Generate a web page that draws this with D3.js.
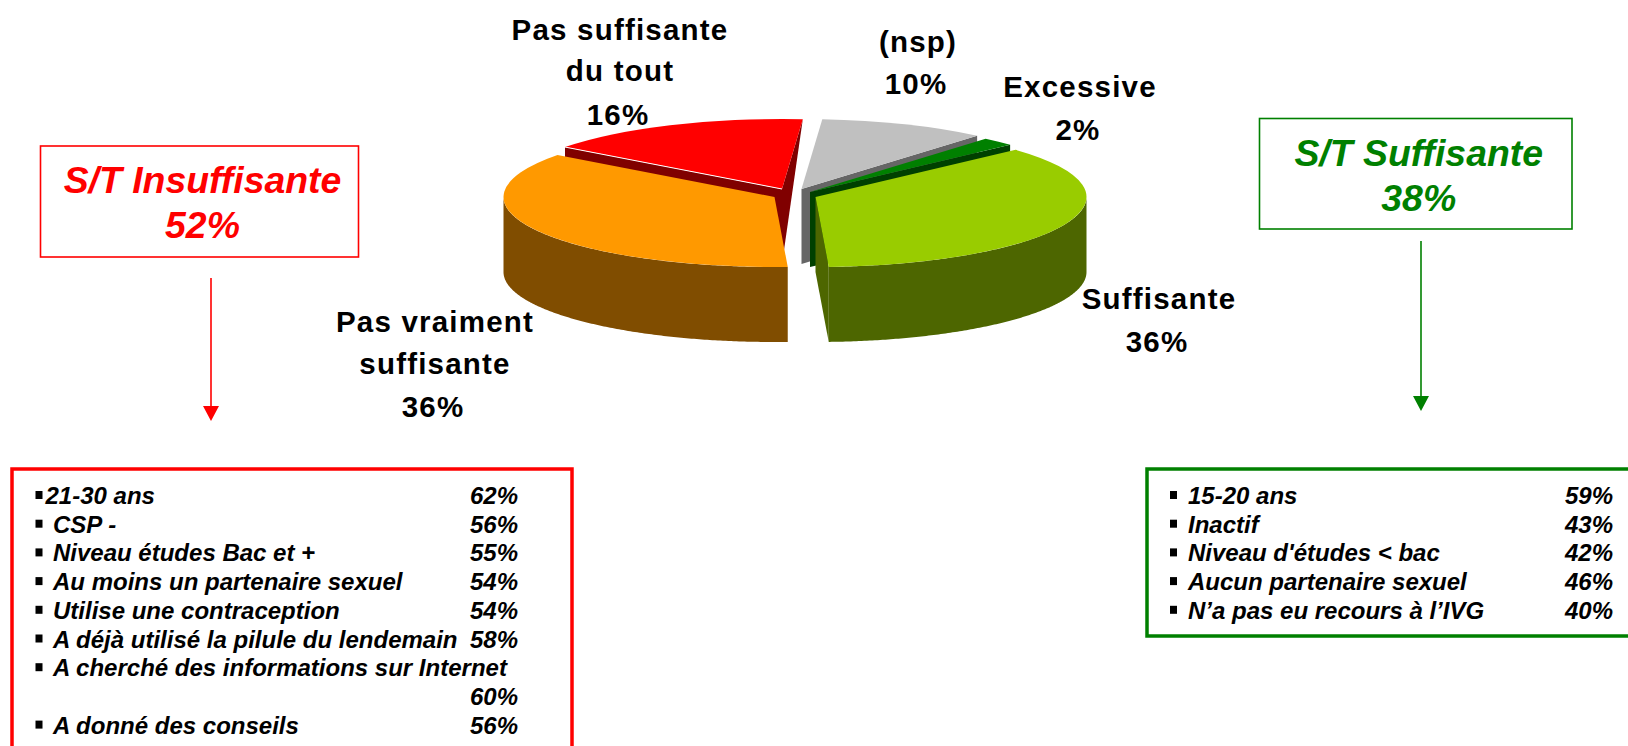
<!DOCTYPE html>
<html>
<head>
<meta charset="utf-8">
<script src="https://cdn.jsdelivr.net/npm/d3@7"></script>
<style>
  body { margin: 0; background: #fff; overflow: hidden; }
  text { font-family: "Liberation Sans", Arial, sans-serif; font-weight: bold; }
</style>
</head>
<body>
<script>
// data
var categories = ["Excessive", "Suffisante", "Pas vraiment suffisante", "Pas suffisante du tout", "(nsp)"];
var shares = [2, 36, 36, 16, 10];

var insuffLabels = ["21-30 ans", "CSP -", "Niveau études Bac et +", "Au moins un partenaire sexuel",
  "Utilise une contraception", "A déjà utilisé la pilule du lendemain",
  "A cherché des informations sur Internet", "", "A donné des conseils"];
var insuffValues = [62, 56, 55, 54, 54, 58, null, 60, 56];

var suffLabels = ["15-20 ans", "Inactif", "Niveau d'études < bac", "Aucun partenaire sexuel", "N’a pas eu recours à l’IVG"];
var suffValues = [59, 43, 42, 46, 40];

var insuffTotal = 52, suffTotal = 38;

// look of the pie
var topColors = ["#008000", "#99cc00", "#ff9900", "#ff0000", "#c0c0c0"];
var sideColors = ["#004000", "#4d6600", "#804d00", "#800000", "#666666"];
var apexes = [[810, 192], [815.5, 197], [774.5, 197], [782, 189], [801.5, 189]];
var rx = 271, ry = 70, depth = 75;
var drawOrder = [3, 4, 0, 1, 2];

var labelLayout = [
  { x: 1080, lines: [[0, 96.5], [1, 140]], text: ["Excessive"] },
  { x: 1159, lines: [[0, 309], [1, 352]], text: ["Suffisante"] },
  { x: 435, lines: [[0, 332], [1, 374], [2, 417]], text: ["Pas vraiment", "suffisante"] },
  { x: 620, lines: [[0, 39.5], [1, 81], [2, 124.5]], text: ["Pas suffisante", "du tout"] },
  { x: 918, lines: [[0, 52], [1, 94]], text: ["(nsp)"] }
];

var svg = d3.select("body").append("svg")
  .attr("width", 1628)
  .attr("height", 746);

var rad = Math.PI / 180;
var pie = d3.pie().sort(null).startAngle(40.4 * rad).endAngle(400.4 * rad);
var arcs = pie(shares);

var arc = d3.arc().innerRadius(0).outerRadius(rx);
var line = d3.line();

function rim(i, a) {
  return [apexes[i][0] + rx * Math.sin(a), apexes[i][1] - ry * Math.cos(a)];
}

function wall(i, a) {
  var p = apexes[i], r = rim(i, a);
  // an edge pointing almost straight back only shows as a wedge
  if (Math.cos(a) > 0 && Math.abs(Math.sin(a)) < 0.2) return [p, r, [p[0], p[1] + depth]];
  return [p, r, [r[0], r[1] + depth], [p[0], p[1] + depth]];
}

drawOrder.forEach(function(i) {
  var d = arcs[i], g = svg.append("g").attr("class", "slice");

  if (Math.sin(d.startAngle) < 0) {
    g.append("path").attr("d", line(wall(i, d.startAngle)) + "Z").attr("fill", sideColors[i]);
  }
  if (Math.sin(d.endAngle) > 0) {
    g.append("path").attr("d", line(wall(i, d.endAngle)) + "Z").attr("fill", sideColors[i]);
  }

  // outer wall, only the front half of the ellipse
  var from = Math.max(d.startAngle, 90 * rad), to = Math.min(d.endAngle, 270 * rad);
  if (from < to) {
    var angles = d3.range(from, to, 0.01).concat([to]);
    var outer = angles.map(function(a) { return rim(i, a); });
    var lower = outer.map(function(p) { return [p[0], p[1] + depth]; }).reverse();
    g.append("path").attr("d", line(outer.concat(lower)) + "Z").attr("fill", sideColors[i]);
  }

  g.append("path")
    .attr("d", arc(d))
    .attr("transform", "translate(" + apexes[i] + ") scale(1," + (ry / rx) + ")")
    .attr("fill", topColors[i]);

  // thin light edge on the red slice
  if (categories[i] === "Pas suffisante du tout") {
    g.append("path")
      .attr("d", line([apexes[i], rim(i, d.startAngle)]))
      .attr("stroke", "#fff").attr("stroke-width", 1);
  }
});

// pie labels
labelLayout.forEach(function(l, i) {
  var rows = l.text.concat([shares[i] + "%"]);
  svg.append("g").selectAll("text")
    .data(rows)
    .enter()
    .append("text")
    .attr("x", function(d, k) { return k === rows.length - 1 ? l.x - 2 : l.x; })
    .attr("y", function(d, k) { return l.lines[k][1]; })
    .attr("text-anchor", "middle")
    .attr("font-size", 29.5)
    .attr("letter-spacing", 1.2)
    .attr("fill", "#000")
    .text(function(d) { return d; });
});

// summary boxes with their arrows
function summary(o) {
  svg.append("rect")
    .attr("x", o.x).attr("y", o.y).attr("width", o.w).attr("height", o.h)
    .attr("fill", "#fff").attr("stroke", o.color).attr("stroke-width", 1.6);
  svg.selectAll(null)
    .data([o.title, o.total + "%"])
    .enter()
    .append("text")
    .attr("x", o.x + o.w / 2 + 3)
    .attr("y", function(d, i) { return o.y + 47 + i * 45; })
    .attr("text-anchor", "middle")
    .attr("font-size", 37.4)
    .attr("font-style", "italic")
    .attr("fill", o.color)
    .text(function(d) { return d; });
  svg.append("path")
    .attr("d", line([[o.ax, o.ay0], [o.ax, o.ay1 - 14]]))
    .attr("stroke", o.color).attr("stroke-width", 1.6);
  svg.append("path")
    .attr("d", line([[o.ax - 8, o.ay1 - 15], [o.ax + 8, o.ay1 - 15], [o.ax, o.ay1]]) + "Z")
    .attr("fill", o.color);
}

summary({ x: 40.5, y: 146, w: 318, h: 111, color: "#ff0000", title: "S/T Insuffisante", total: insuffTotal, ax: 211, ay0: 278, ay1: 421 });
summary({ x: 1259.5, y: 118.5, w: 312.5, h: 110.5, color: "#008000", title: "S/T Suffisante", total: suffTotal, ax: 1421, ay0: 241, ay1: 411 });

// detail lists
var rowY = d3.scaleLinear().domain([0, 1]).range([504, 532.7]);

function list(o) {
  svg.append("rect")
    .attr("x", o.x).attr("y", o.y).attr("width", o.w).attr("height", o.h)
    .attr("fill", "none").attr("stroke", o.color).attr("stroke-width", 3.5);

  var rows = svg.append("g").selectAll("g")
    .data(o.labels)
    .enter()
    .append("g")
    .attr("transform", function(d, i) { return "translate(0," + rowY(i) + ")"; });

  rows.filter(function(d) { return d !== ""; })
    .append("rect")
    .attr("x", o.bulletX).attr("y", -13).attr("width", 7).attr("height", 8)
    .attr("fill", "#000");

  rows.append("text")
    .attr("x", function(d, i) { return o.textX - (i === 0 ? o.firstShift : 0); })
    .attr("font-size", 24)
    .attr("font-style", "italic")
    .attr("fill", "#000")
    .text(function(d) { return d; });

  rows.append("text")
    .attr("x", o.valueX)
    .attr("font-size", 24)
    .attr("font-style", "italic")
    .attr("fill", "#000")
    .text(function(d, i) { return o.values[i] === null ? "" : o.values[i] + "%"; });
}

list({ x: 12, y: 469, w: 560, h: 300, color: "#ff0000", labels: insuffLabels, values: insuffValues,
  bulletX: 35.5, textX: 53, firstShift: 7.5, valueX: 470 });
list({ x: 1147, y: 469, w: 500, h: 167, color: "#008000", labels: suffLabels, values: suffValues,
  bulletX: 1170, textX: 1188, firstShift: 0, valueX: 1565 });
</script>
</body>
</html>
